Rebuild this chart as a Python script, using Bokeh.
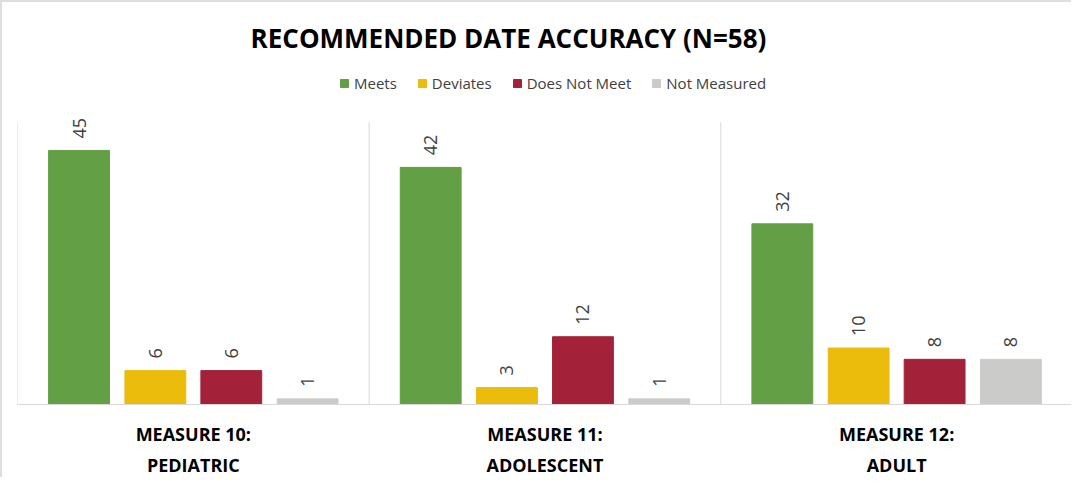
import math
from bokeh.plotting import figure
from bokeh.models import (ColumnDataSource, Range1d, FixedTicker, LinearAxis,
                          Legend, LegendItem, Label)
from bokeh.transform import dodge
from bokeh.core.properties import value
from bokeh.embed import file_html
from bokeh.resources import INLINE

# ---- data ----
groups = [0, 1, 2]
label_line1 = ["MEASURE 10:", "MEASURE 11:", "MEASURE 12:"]
label_line2 = ["PEDIATRIC", "ADOLESCENT", "ADULT"]
series = ["Meets", "Deviates", "Does Not Meet", "Not Measured"]
meets = [45, 42, 32]
deviates = [6, 3, 10]
does_not_meet = [6, 12, 8]
not_measured = [1, 1, 8]
title_text = "RECOMMENDED DATE ACCURACY (N=58)"
value_axis_max = 50

colors = ["#629f45", "#ebbc0c", "#a3223a", "#cbcbca"]
keys = ["meets", "deviates", "does_not_meet", "not_measured"]
offsets = [-0.325, -0.108, 0.108, 0.325]

data = dict(x=groups, meets=meets, deviates=deviates,
            does_not_meet=does_not_meet, not_measured=not_measured)
for k in keys:
    data[k + "_lbl"] = [str(v) for v in data[k]]
source = ColumnDataSource(data)

# separators between the category groups
bounds = [g - 0.5 for g in groups] + [groups[-1] + 0.5]

FONT = "Open Sans"
FRAME_H = 403            # px, frame spans from canvas top to baseline
PX_PER_UNIT = 283 / value_axis_max

p = figure(width=1071, height=477, output_backend="svg", toolbar_location=None,
           x_range=Range1d(-0.5, 2.503),
           y_range=Range1d(0, FRAME_H / PX_PER_UNIT),
           min_border_left=15, min_border_right=0, min_border_top=0,
           min_border_bottom=74)
p.styles = {"border-left": "2px solid #dedede", "border-top": "2px solid #dedede"}
p.outline_line_color = None
p.background_fill_color = "white"
p.border_fill_color = "white"
p.title.visible = False

p.yaxis.visible = False
p.ygrid.grid_line_color = None
p.xgrid.grid_line_color = None

p.segment(x0=bounds, y0=[0] * len(bounds), x1=bounds,
          y1=[value_axis_max] * len(bounds), line_color="#d9d9d9", line_width=1)

xa = p.xaxis[0]
xa.ticker = FixedTicker(ticks=groups)
xa.major_label_overrides = dict(zip(groups, label_line1))
xa.axis_line_color = "#d9d9d9"
xa.axis_line_width = 1
xa.major_tick_line_color = None
xa.minor_tick_line_color = None
xa.major_label_text_font = FONT
xa.major_label_text_font_style = "bold"
xa.major_label_text_font_size = "18px"
xa.major_label_text_color = "#000000"
xa.major_label_standoff = 11

xa2 = LinearAxis(ticker=FixedTicker(ticks=groups),
                 major_label_overrides=dict(zip(groups, label_line2)))
xa2.axis_line_color = None
xa2.major_tick_line_color = None
xa2.minor_tick_line_color = None
xa2.major_label_text_font = FONT
xa2.major_label_text_font_style = "bold"
xa2.major_label_text_font_size = "18px"
xa2.major_label_text_color = "#000000"
xa2.major_label_standoff = -2
p.add_layout(xa2, "below")

items = []
for i, k in enumerate(keys):
    xd = dodge("x", offsets[i], range=p.x_range)
    r = p.vbar(x=xd, top=k, width=0.173, source=source,
               fill_color=colors[i], line_color=colors[i], line_width=1)
    p.text(x=xd, y=k, text=k + "_lbl", source=source, angle=math.pi / 2,
           text_align="left", text_baseline="middle", y_offset=-12,
           text_font=value(FONT), text_font_size="18px", text_color="#404040")
    items.append(LegendItem(label=series[i], renderers=[r]))

legend = Legend(items=items, orientation="horizontal", location=(322, 311),
                glyph_width=10, glyph_height=10, label_standoff=5, spacing=20,
                label_text_font=FONT, label_text_font_size="15px",
                label_text_color="#404040", border_line_color=None,
                background_fill_alpha=0, margin=0, padding=0)
p.add_layout(legend, "center")

title = Label(x=491, y=367, x_units="screen", y_units="screen",
              text=title_text, text_align="center", text_baseline="middle",
              text_font=FONT, text_font_style="bold", text_font_size="26px",
              text_color="#000000")
p.add_layout(title)

open("out.html", "w").write(file_html(p, INLINE))
